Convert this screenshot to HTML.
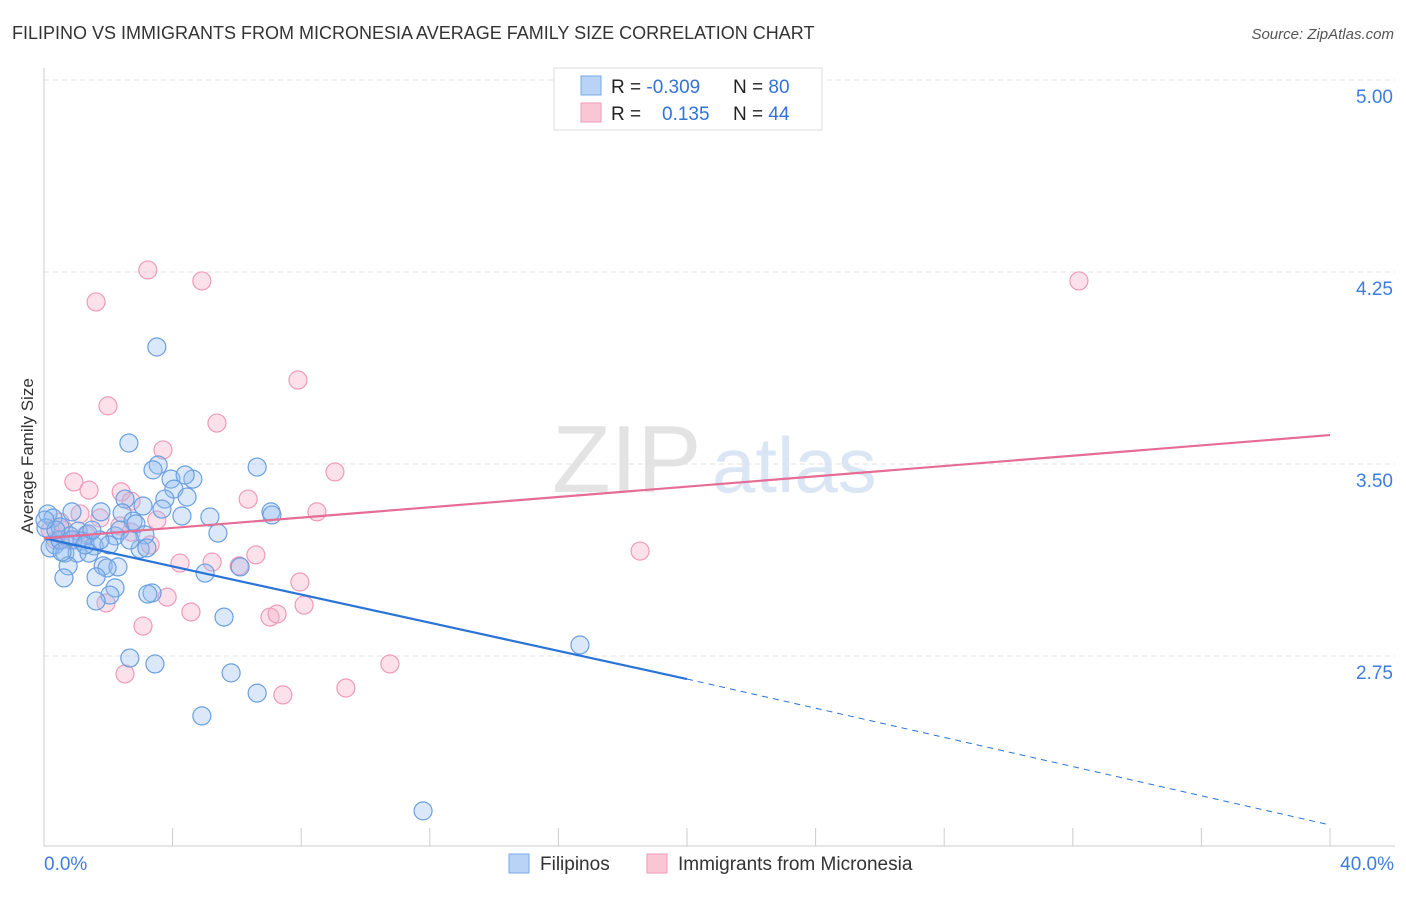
<!DOCTYPE html>
<html><head><meta charset="utf-8"><style>
body{margin:0;background:#fff;font-family:"Liberation Sans",sans-serif;}
svg text{font-family:"Liberation Sans",sans-serif;}
</style></head><body>
<svg id="chart" width="1406" height="892">
<text x="12" y="39" font-size="18" fill="#333">FILIPINO VS IMMIGRANTS FROM MICRONESIA AVERAGE FAMILY SIZE CORRELATION CHART</text>
<text x="1394" y="39" font-size="15" fill="#555" text-anchor="end" font-style="italic">Source: ZipAtlas.com</text>
<text x="0" y="0" transform="translate(33,456) rotate(-90)" font-size="17" fill="#333" text-anchor="middle">Average Family Size</text>
<g><text x="552" y="492" font-size="96" fill="#e3e3e3" font-family="Liberation Serif,serif">ZIP</text><text x="712" y="492" font-size="78" fill="#dbe6f5">atlas</text></g>
<g id="grid"></g><g id="axes"></g><g id="pts"></g><g id="trend"></g>
<g>
<rect x="554" y="68" width="268" height="62" fill="#fff" stroke="#ddd"/>
<rect x="581" y="76" width="20" height="19" fill="#b8d3f5" stroke="#7aa8e8"/>
<rect x="581" y="103" width="20" height="19" fill="#f9c6d6" stroke="#ee9ab8"/>
<text x="611" y="93" font-size="19" fill="#222">R = <tspan fill="#3472d8">-0.309</tspan><tspan x="733">N = </tspan><tspan fill="#3472d8">80</tspan></text>
<text x="611" y="120" font-size="19" fill="#222">R = <tspan x="662" fill="#3472d8">0.135</tspan><tspan x="733">N = </tspan><tspan fill="#3472d8">44</tspan></text>
</g>
<g>
<rect x="509" y="854" width="20" height="19" fill="#b8d3f5" stroke="#7aa8e8"/>
<text x="540" y="870" font-size="19" fill="#333">Filipinos</text>
<rect x="647" y="854" width="20" height="19" fill="#f9c6d6" stroke="#ee9ab8"/>
<text x="678" y="870" font-size="19" fill="#333">Immigrants from Micronesia</text>
</g>
</svg>
<script>
const yTicks=[5.00,4.25,3.50,2.75];
const xLabels=["0.0%","40.0%"];
const blueX=[3.51,2.64,3.55,6.63,3.39,3.95,4.63,4.39,4.04,4.45,2.52,3.76,3.08,3.67,0.87,1.77,2.43,4.29,5.16,7.06,7.09,2.77,2.86,0.12,0.28,0.06,0.50,1.06,1.37,2.21,3.14,5.41,0.90,1.18,0.34,1.56,2.02,2.99,3.20,0.19,0.65,1.03,1.40,1.84,2.30,1.96,0.75,5.01,6.10,1.62,0.62,2.21,2.05,3.36,3.23,1.62,5.60,16.67,2.67,3.45,5.82,6.63,4.91,11.79,0.50,0.81,1.28,2.36,0.37,0.56,1.74,1.49,2.67,0.03];
const blueY=[3.957,3.582,3.496,3.488,3.477,3.441,3.441,3.457,3.402,3.371,3.363,3.363,3.336,3.324,3.313,3.313,3.309,3.297,3.293,3.313,3.301,3.277,3.266,3.305,3.289,3.25,3.254,3.238,3.227,3.219,3.223,3.230,3.203,3.199,3.184,3.180,3.184,3.168,3.172,3.172,3.152,3.152,3.152,3.102,3.098,3.094,3.102,3.074,3.098,3.059,3.055,3.016,2.988,2.996,2.992,2.965,2.902,2.793,2.742,2.719,2.684,2.605,2.516,2.145,3.203,3.219,3.184,3.242,3.242,3.156,3.203,3.242,3.203,3.281];
const pinkX=[3.23,4.91,32.19,1.62,1.99,7.90,5.38,3.70,9.05,0.93,1.40,2.40,2.71,6.35,8.49,1.74,1.12,3.51,2.36,0.62,2.71,0.19,1.31,0.37,6.59,18.54,5.23,4.23,6.07,7.96,3.83,4.57,7.03,7.25,8.09,1.93,3.08,2.52,10.76,9.39,7.43,0.50,0.81,3.30];
const pinkY=[4.258,4.215,4.215,4.133,3.727,3.828,3.660,3.555,3.469,3.430,3.398,3.391,3.355,3.363,3.313,3.289,3.305,3.281,3.258,3.242,3.234,3.242,3.223,3.203,3.145,3.160,3.117,3.113,3.102,3.039,2.980,2.922,2.902,2.914,2.949,2.957,2.867,2.680,2.719,2.625,2.598,3.273,3.203,3.184];
const blueTrend=[3.21,2.66,2.09];
const pinkTrend=[3.21,3.613];
const NS='http://www.w3.org/2000/svg';
const X0=44,X1=1330;
function sx(v){return X0+(X1-X0)*v/40;}
function sy(v){return 80+(5-v)*256;}
function mk(t,a,p){const e=document.createElementNS(NS,t);for(const k in a)e.setAttribute(k,a[k]);p.appendChild(e);return e;}
const grid=document.getElementById('grid'),axes=document.getElementById('axes'),pts=document.getElementById('pts'),tr=document.getElementById('trend');
yTicks.forEach(v=>{
 const l=mk('line',{x1:44,x2:1395,y1:sy(v),y2:sy(v),stroke:'#e2e2e2','stroke-dasharray':'5,4'},grid);
 
 
 const t=mk('text',{x:1393,y:sy(v)+23,'font-size':19,fill:'#3d7de0','text-anchor':'end'},grid);
 t.textContent=v.toFixed(2);
 
 
});
const ya=mk('line',{x1:44,x2:44,y1:68,y2:846,stroke:'#ccc'},axes);


const xa=mk('line',{x1:44,x2:1395,y1:846,y2:846,stroke:'#ccc'},axes);


for(let i=0;i<=10;i++){
 const t=mk('line',{x1:sx(i*4),x2:sx(i*4),y1:828,y2:846,stroke:'#ccc'},axes);
 
 
}
[[0,'start',44],[40,'end',1394]].forEach((d,i)=>{
 const t=mk('text',{x:d[2],y:870,'font-size':19,fill:'#3d7de0','text-anchor':d[1]},axes);
 t.textContent=xLabels[i];
 
 
});
pinkX.forEach((x,i)=>{
 const c=mk('circle',{cx:sx(x),cy:sy(pinkY[i]),r:9,fill:'rgba(245,170,196,0.35)',stroke:'#ee9ab8','stroke-width':1.2},pts);
 
 
});
blueX.forEach((x,i)=>{
 const c=mk('circle',{cx:sx(x),cy:sy(blueY[i]),r:9,fill:'rgba(150,190,240,0.35)',stroke:'#6a9fe0','stroke-width':1.2},pts);
 
 
});
const b1=mk('line',{x1:sx(0),y1:sy(blueTrend[0]),x2:sx(20),y2:sy(blueTrend[1]),stroke:'#2a74d8','stroke-width':2.2},tr);


const b2=mk('line',{x1:sx(20),y1:sy(blueTrend[1]),x2:sx(40),y2:sy(blueTrend[2]),stroke:'#2a74d8','stroke-width':1,'stroke-dasharray':'6,5'},tr);


const p1=mk('line',{x1:sx(0),y1:sy(pinkTrend[0]),x2:sx(40),y2:sy(pinkTrend[1]),stroke:'#e56c95','stroke-width':2.2},tr);


</script>
</body></html>
